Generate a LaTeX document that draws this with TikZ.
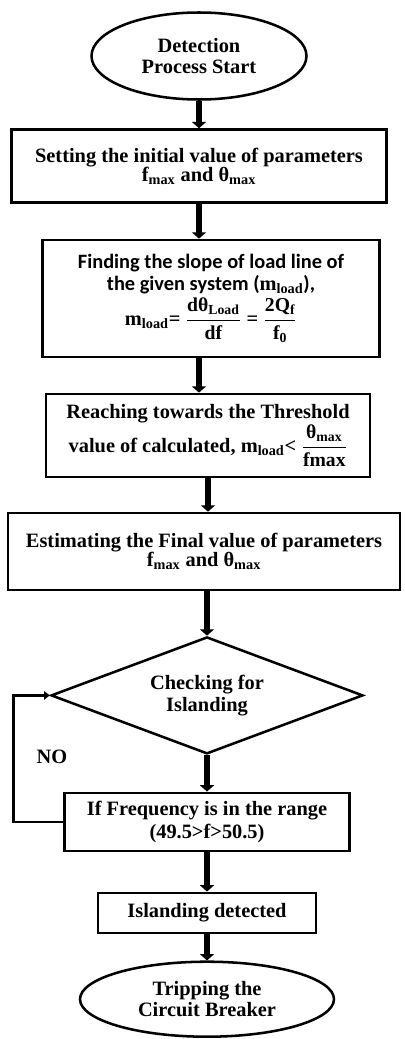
\documentclass[tikz,border=0pt]{standalone}
\usepackage{amsmath}
\usepackage{fontspec}
\setmainfont{Liberation Serif}
\newfontfamily\calfont{Carlito}
\usetikzlibrary{shapes.geometric,arrows.meta}
\newcommand\lw[1]{\textsubscript{#1}}
\newcommand\fr[2]{$\dfrac{\text{\fontsize{14}{14}\selectfont\bfseries #1}}{\text{\fontsize{14}{14}\selectfont\bfseries #2}}$}

\begin{document}
\begin{tikzpicture}[
    node distance=3cm,
    box/.style={rectangle, draw=black, line width=1.8pt, align=center, font=\fontsize{14.5}{15}\selectfont\bfseries},
    term/.style={ellipse, draw=black, line width=1.8pt, align=center, inner sep=0pt, font=\fontsize{14.5}{14.5}\selectfont\bfseries},
    decide/.style={diamond, aspect=2.67, draw=black, line width=1.8pt, align=center, inner sep=0pt, font=\fontsize{14.5}{16}\selectfont\bfseries},
    arr/.style={-{Triangle[width=10pt,length=4.5pt]}, line width=3.6pt, black},
    looparr/.style={-{Triangle[width=6pt,length=4pt]}, line width=1.8pt, black},
    lbl/.style={font=\fontsize{14.5}{15}\selectfont\bfseries},
]
\useasboundingbox (0,0) rectangle (10.1,-25.975);
\node[term, minimum width=5.375cm, minimum height=2.175cm] (start) at (4.975,-1.4) {Detection\\Process Start};
\node[box, below of=start, node distance=2.75cm, minimum width=9.375cm, minimum height=1.825cm, font=\fontsize{14.5}{13.5}\selectfont\bfseries] (init) {Setting the initial value of parameters\\ f\lw{max} and θ\lw{max}};
\node[box, below of=init, node distance=3.31cm, xshift=0.3cm, minimum width=8.425cm, minimum height=2.925cm] (slope) {{\calfont\fontsize{14.5}{16}\selectfont Finding the slope of load line of}\\ {\calfont\fontsize{14.5}{16}\selectfont the given system (}m\lw{load}{\calfont\fontsize{14.5}{16}\selectfont ),}\\[2pt]
  m\lw{load}= \fr{dθ\lw{Load}}{df} = \fr{2Q\lw{f}}{f\lw{0}}};
\node[box, below of=slope, node distance=3.425cm, xshift=-0.075cm, minimum width=8.1cm, minimum height=2.075cm] (thresh) {Reaching towards the Threshold\\ value of calculated, m\lw{load}< \fr{θ\lw{max}}{fmax}};
\node[box, below of=thresh, node distance=2.9cm, xshift=-0.1cm, minimum width=9.8cm, minimum height=1.925cm, font=\fontsize{14.5}{13.5}\selectfont\bfseries] (final) {Estimating the Final value of parameters\\ f\lw{max} and θ\lw{max}};
\node[decide, below of=final, node distance=3.6cm, xshift=0.075cm, minimum width=7.8cm, minimum height=2.925cm] (check) {Checking for\\Islanding};
\node[box, below of=check, node distance=3.16cm, minimum width=7.125cm, minimum height=1.45cm, font=\fontsize{14.5}{16.5}\selectfont\bfseries] (freq) {If Frequency is in the range\\(49.5>f>50.5)};
\node[box, below of=freq, node distance=2.275cm, minimum width=5.45cm, minimum height=1.0cm] (found) {Islanding detected};
\node[term, below of=found, node distance=2.16cm, minimum width=6.35cm, minimum height=1.875cm] (trip) {Tripping the\\Circuit Breaker};
\coordinate (bend) at ([xshift=-1.25cm]freq.west);
\node[lbl] (no) at (1.3,-18.93) {NO};

\draw[arr] (start) -- (start |- init.north);
\draw[arr] (init) -- (init |- slope.north);
\draw[arr] (slope.south -| init) -- (init |- thresh.north);
\draw[arr] (thresh) -- (thresh |- final.north);
\draw[arr] (final.south -| check) -- (check.north);
\draw[arr] (check) -- (check |- freq.north);
\draw[arr] (freq) -- (freq |- found.north);
\draw[arr] (found) -- (found |- trip.north);
\draw[looparr] (freq.west) -- (bend) |- (check.west);
\end{tikzpicture}
\end{document}
